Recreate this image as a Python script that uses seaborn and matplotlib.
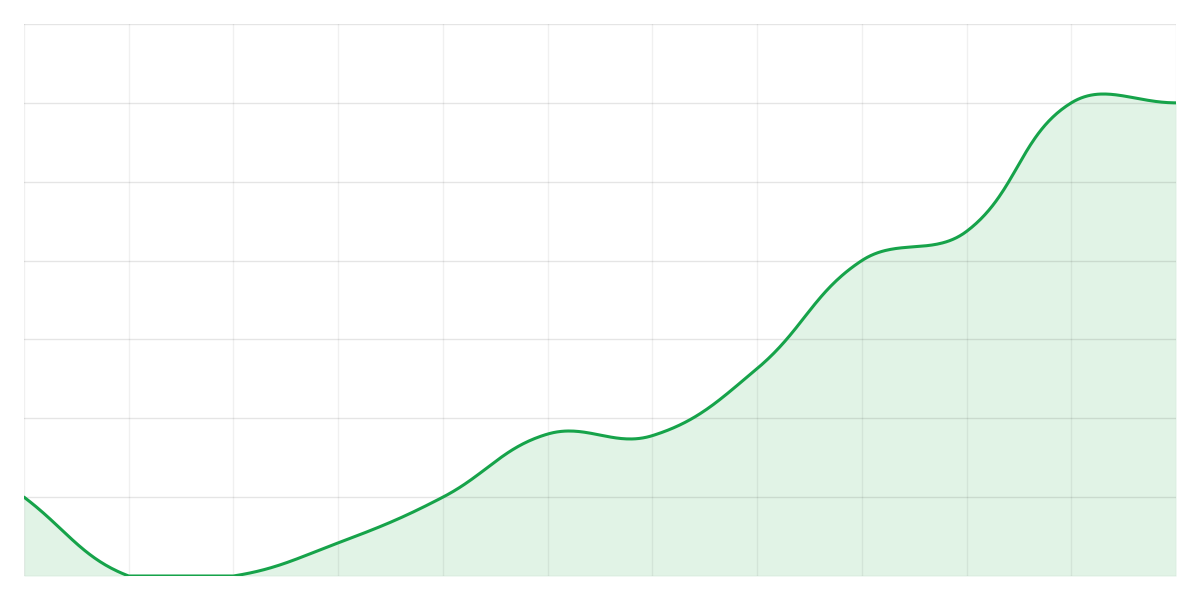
import matplotlib

matplotlib.use("Agg")
import matplotlib.pyplot as plt
import numpy as np
import pandas as pd
import seaborn as sns

# values (12 points, y axis 0..7)
x_index = list(range(12))
series_values = [1.0, 0.0, 0.0, 0.42, 1.0, 1.8, 1.78, 2.63, 4.0, 4.37, 6.0, 6.0]
y_min, y_max = 0, 7

LINE_COLOR = "#16a34a"
FILL_COLOR = "#e1f3e6"
TENSION = 0.4
PX_PER_X = 104.7  # pixel scale, used so the spline behaves like a canvas one
PX_PER_Y = 78.9


def control_points(xs, ys, t=TENSION):
    pts = np.column_stack([np.asarray(xs, float) * PX_PER_X, np.asarray(ys, float) * PX_PER_Y])
    n = len(pts)
    cp_prev = pts.copy()
    cp_next = pts.copy()
    for i in range(n):
        prev = pts[i - 1] if i > 0 else pts[i]
        cur = pts[i]
        nxt = pts[i + 1] if i < n - 1 else pts[i]
        d01 = np.hypot(*(cur - prev))
        d12 = np.hypot(*(nxt - cur))
        tot = d01 + d12
        s01 = d01 / tot if tot else 0.0
        s12 = d12 / tot if tot else 0.0
        cp_prev[i] = cur - t * s01 * (nxt - prev)
        cp_next[i] = cur + t * s12 * (nxt - prev)
    lo = np.array([xs[0] * PX_PER_X, y_min * PX_PER_Y])
    hi = np.array([xs[-1] * PX_PER_X, y_max * PX_PER_Y])
    cp_prev = np.clip(cp_prev, lo, hi)
    cp_next = np.clip(cp_next, lo, hi)
    return pts, cp_prev, cp_next


def smooth_curve(xs, ys, steps=60):
    pts, cp_prev, cp_next = control_points(xs, ys)
    u = np.linspace(0, 1, steps)[:, None]
    out = []
    for i in range(len(pts) - 1):
        p0, p1, p2, p3 = pts[i], cp_next[i], cp_prev[i + 1], pts[i + 1]
        seg = ((1 - u) ** 3) * p0 + 3 * ((1 - u) ** 2) * u * p1 + 3 * (1 - u) * u**2 * p2 + u**3 * p3
        out.append(seg if i == 0 else seg[1:])
    curve = np.vstack(out)
    return curve[:, 0] / PX_PER_X, curve[:, 1] / PX_PER_Y


sns.set_theme(style="white")
plt.rcParams["font.family"] = ["DejaVu Sans"]

fig = plt.figure(figsize=(12, 6), dpi=100)
ax = fig.add_axes([24 / 1200, 24 / 600, 1152 / 1200, 552 / 600])

cx, cy = smooth_curve(x_index, series_values)
curve = pd.DataFrame({"x": cx, "y": cy})

ax.fill_between(curve["x"], y_min, curve["y"], color=FILL_COLOR, lw=0, zorder=1)

# grid sits on top of the fill, as in the reference
for xv in x_index:
    ax.axvline(xv, color="black", alpha=0.06, lw=1, zorder=2)
for yv in range(y_min, y_max + 1):
    ax.axhline(yv, color="black", alpha=0.1, lw=1, zorder=2)

sns.lineplot(data=curve, x="x", y="y", sort=False, color=LINE_COLOR, lw=2.2, ax=ax, zorder=3)

ax.set_xlim(x_index[0], x_index[-1])
ax.set_ylim(y_min, y_max)
ax.set_xticks([])
ax.set_yticks([])
ax.set_xlabel("")
ax.set_ylabel("")
for spine in ax.spines.values():
    spine.set_visible(False)

fig.savefig("out.png", dpi=100, facecolor="white")
